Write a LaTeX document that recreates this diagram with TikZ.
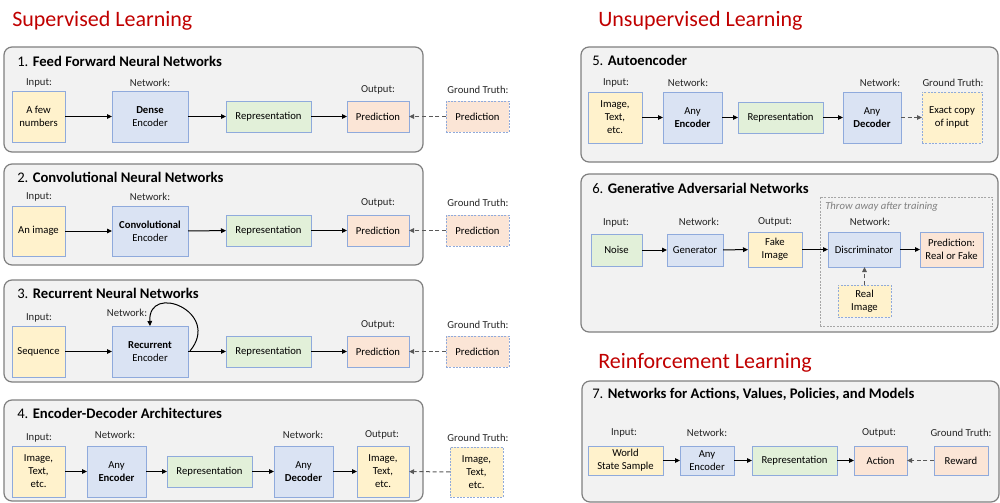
\documentclass[tikz,border=0pt]{standalone}
\usepackage{fontspec}
\setmainfont{Carlito}
\usetikzlibrary{arrows.meta}
\definecolor{yelF}{HTML}{FFF2CC}
\definecolor{bluF}{HTML}{DAE3F3}
\definecolor{grnF}{HTML}{E2F0D9}
\definecolor{peaF}{HTML}{FBE5D6}
\definecolor{bdr}{HTML}{8FAADC}
\definecolor{panF}{HTML}{F2F2F2}
\definecolor{panD}{HTML}{7F7F7F}
\definecolor{hdr}{HTML}{C00000}
\definecolor{dgray}{HTML}{595959}
\definecolor{rgnD}{HTML}{A6A6A6}
% #1 style, #2 name, #3 x1, #4 y1, #5 x2, #6 y2, #7 text
\newcommand{\mybox}[7]{%
  \pgfmathsetmacro\myBW{(#5-#3)*0.75}%
  \pgfmathsetmacro\myBH{(#6-#4)*0.75}%
  \pgfmathsetmacro\myCX{(#3+#5)/2}%
  \pgfmathsetmacro\myCY{(#4+#6)/2}%
  \node[#1, minimum width=\myBW pt, minimum height=\myBH pt] (#2) at (\myCX,\myCY) {#7};}
\begin{document}
\begin{tikzpicture}[x=0.75pt,y=-0.75pt,
  box/.style={draw=bdr, line width=0.7pt, inner sep=0pt, outer sep=0pt, align=center, font=\fontsize{8}{9.75}\selectfont, text=black},
  yel/.style={box, fill=yelF},
  blu/.style={box, fill=bluF},
  grn/.style={box, fill=grnF},
  pea/.style={box, fill=peaF},
  gtd/.style={dash pattern=on 1.5pt off 1pt},
  lbl/.style={font=\fontsize{8}{9.75}\selectfont, inner sep=0pt, text=black!85},
  ttl/.style={anchor=base west, font=\fontsize{11}{13}\selectfont, inner sep=0pt},
  hd/.style={anchor=base west, font=\fontsize{16.5}{20}\selectfont, text=hdr, inner sep=0pt},
  panel/.style={fill=panF, draw=panD, line width=0.9pt, rounded corners=6pt, inner sep=0pt, outer sep=0pt},
  rgn/.style={draw=rgnD, dash pattern=on 1.5pt off 1pt, line width=0.6pt, inner sep=0pt},
  arr/.style={-{Triangle[length=3.75pt,width=3.5pt]}, line width=0.75pt},
  darr/.style={arr, draw=dgray, dash pattern=on 3pt off 2pt}]
\useasboundingbox (0,0) rectangle (1000,503);

% headers
\node[hd] (hsup) at (12,27) {Supervised Learning};
\node[hd] (hunsup) at (598,27) {Unsupervised Learning};
\node[hd] (hrl) at (598,368) {Reinforcement Learning};

% ---------- Panel 1
\mybox{panel}{p1}{4}{47}{423}{152}{}
\node[ttl] (t1) at (17,67) {1. \textbf{Feed Forward Neural Networks}};
\node[lbl] (l1a) at (39,83) {Input:};
\node[lbl] (l1b) at (150,83) {Network:};
\node[lbl] (l1c) at (378,90) {Output:};
\node[lbl] (l1d) at (478,90) {Ground Truth:};
\mybox{yel}{in1}{12}{91}{65}{142}{A few\\numbers}
\mybox{blu}{net1}{112}{91}{188}{142}{\textbf{Dense}\\Encoder}
\mybox{grn}{rep1}{226}{101}{311}{132}{Representation}
\mybox{pea}{out1}{347}{101}{409}{132}{Prediction}
\mybox{pea,gtd}{gt1}{446}{101}{509}{132}{Prediction}
\draw[arr] (in1) -- (net1);
\draw[arr] (net1) -- (rep1);
\draw[arr] (rep1) -- (out1);
\draw[darr] (gt1) -- (out1);

% ---------- Panel 2
\mybox{panel}{p2}{4}{164}{423}{265}{}
\node[ttl] (t2) at (17,182) {2. \textbf{Convolutional Neural Networks}};
\node[lbl] (l2a) at (39,197) {Input:};
\node[lbl] (l2b) at (150,197) {Network:};
\node[lbl] (l2c) at (378,203) {Output:};
\node[lbl] (l2d) at (478,203) {Ground Truth:};
\mybox{yel}{in2}{12}{206}{65}{256}{An image}
\mybox{blu}{net2}{112}{206}{188}{256}{\textbf{Convolutional}\\Encoder}
\mybox{grn}{rep2}{226}{215}{311}{246}{Representation}
\mybox{pea}{out2}{347}{215}{409}{246}{Prediction}
\mybox{pea,gtd}{gt2}{446}{215}{509}{246}{Prediction}
\draw[arr] (in2) -- (net2);
\draw[arr] (net2) -- (rep2);
\draw[arr] (rep2) -- (out2);
\draw[darr] (gt2) -- (out2);

% ---------- Panel 3
\mybox{panel}{p3}{4}{280}{423}{382}{}
\node[ttl] (t3) at (17,298) {3. \textbf{Recurrent Neural Networks}};
\node[lbl] (l3a) at (39,318) {Input:};
\node[lbl] (l3b) at (127,313) {Network:};
\node[lbl] (l3c) at (378,325) {Output:};
\node[lbl] (l3d) at (478,325) {Ground Truth:};
\mybox{yel}{in3}{12}{326}{65}{377}{Sequence}
\mybox{blu}{net3}{112}{326}{188}{377}{\textbf{Recurrent}\\Encoder}
\mybox{grn}{rep3}{226}{336}{311}{367}{Representation}
\mybox{pea}{out3}{347}{336}{409}{367}{Prediction}
\mybox{pea,gtd}{gt3}{446}{336}{509}{367}{Prediction}
\draw[arr] (in3) -- (net3);
\draw[arr] (net3) -- (rep3);
\draw[arr] (rep3) -- (out3);
\draw[darr] (gt3) -- (out3);
\coordinate (ls3) at (190,351);
\draw[arr] (ls3) .. controls (222,312) and (148,282) .. (net3.north);

% ---------- Panel 4
\mybox{panel}{p4}{4}{400}{423}{501}{}
\node[ttl] (t4) at (17,418) {4. \textbf{Encoder-Decoder Architectures}};
\node[lbl] (l4a) at (39,438) {Input:};
\node[lbl] (l4b) at (115,435) {Network:};
\node[lbl] (l4c) at (303,435) {Network:};
\node[lbl] (l4d) at (382,435) {Output:};
\node[lbl] (l4e) at (478,438) {Ground Truth:};
\mybox{yel}{in4}{12}{446}{65}{497}{Image,\\Text,\\etc.}
\mybox{blu}{enc4}{87}{446}{146}{497}{Any\\\textbf{Encoder}}
\mybox{grn}{rep4}{167}{456}{252}{487}{Representation}
\mybox{blu}{dec4}{274}{446}{333}{497}{Any\\\textbf{Decoder}}
\mybox{yel}{out4}{357}{446}{409}{497}{Image,\\Text,\\etc.}
\mybox{yel,gtd}{gt4}{450}{447}{503}{497}{Image,\\Text,\\etc.}
\draw[arr] (in4) -- (enc4);
\draw[arr] (enc4) -- (rep4);
\draw[arr] (rep4) -- (dec4);
\draw[arr] (dec4) -- (out4);
\draw[darr] (gt4) -- (out4);

% ---------- Panel 5
\mybox{panel}{p5}{581}{47}{998}{162}{}
\node[ttl] (t5) at (592,66) {5. \textbf{Autoencoder}};
\node[lbl] (l5a) at (616,83) {Input:};
\node[lbl] (l5b) at (688,83) {Network:};
\node[lbl] (l5c) at (880,83) {Network:};
\node[lbl] (l5d) at (953,83) {Ground Truth:};
\mybox{yel}{in5}{588}{92}{642}{143}{Image,\\Text,\\etc.}
\mybox{blu}{enc5}{663}{92}{722}{143}{Any\\\textbf{Encoder}}
\mybox{grn}{rep5}{738}{102}{823}{133}{Representation}
\mybox{blu}{dec5}{843}{92}{901}{143}{Any\\\textbf{Decoder}}
\mybox{yel,gtd}{gt5}{922}{92}{982}{143}{Exact copy\\of input}
\draw[arr] (in5) -- (enc5);
\draw[arr] (enc5) -- (rep5);
\draw[arr] (rep5) -- (dec5);
\draw[darr] (dec5) -- (gt5);

% ---------- Panel 6
\mybox{panel}{p6}{581}{174}{998}{332}{}
\node[ttl] (t6) at (592,193) {6. \textbf{Generative Adversarial Networks}};
\mybox{rgn}{region}{820}{197}{992}{326}{}
\node[lbl, anchor=west, text=panD, font=\fontsize{8}{9.75}\selectfont\itshape] (thr) at (825,207) {Throw away after training};
\node[lbl] (l6a) at (616,223) {Input:};
\node[lbl] (l6b) at (699,222) {Network:};
\node[lbl] (l6c) at (775,222) {Output:};
\node[lbl] (l6d) at (870,222) {Network:};
\mybox{grn}{noise}{591}{234}{642}{266}{Noise}
\mybox{blu}{gen}{667}{234}{723}{266}{Generator}
\mybox{yel}{fake}{748}{232}{802}{267}{Fake\\Image}
\mybox{blu}{disc}{828}{232}{900}{267}{Discriminator}
\mybox{pea}{pred6}{920}{232}{983}{267}{Prediction:\\Real or Fake}
\mybox{yel,gtd}{real}{838}{285}{891}{317}{Real\\Image}
\draw[arr] (noise) -- (gen);
\draw[arr] (gen) -- (fake);
\draw[arr] (fake) -- (disc);
\draw[arr] (disc) -- (pred6);
\draw[darr] (real) -- (real.north |- disc.south);

% ---------- Panel 7
\mybox{panel}{p7}{582}{381}{999}{502}{}
\node[ttl] (t7) at (592,398) {7. \textbf{Networks for Actions, Values, Policies, and Models}};
\node[lbl] (l7a) at (624,433) {Input:};
\node[lbl] (l7b) at (707,433) {Network:};
\node[lbl] (l7c) at (879,433) {Output:};
\node[lbl] (l7d) at (961,433) {Ground Truth:};
\mybox{yel}{ws}{588}{446}{663}{475}{World\\State Sample}
\mybox{blu}{enc7}{680}{446}{734}{475}{Any\\Encoder}
\mybox{grn}{rep7}{752}{446}{837}{475}{Representation}
\mybox{pea}{act}{854}{446}{907}{475}{Action}
\mybox{pea}{rew}{934}{446}{988}{475}{Reward}
\draw[arr] (ws) -- (enc7);
\draw[arr] (enc7) -- (rep7);
\draw[arr] (rep7) -- (act);
\draw[darr] (rew) -- (act);
\end{tikzpicture}
\end{document}
